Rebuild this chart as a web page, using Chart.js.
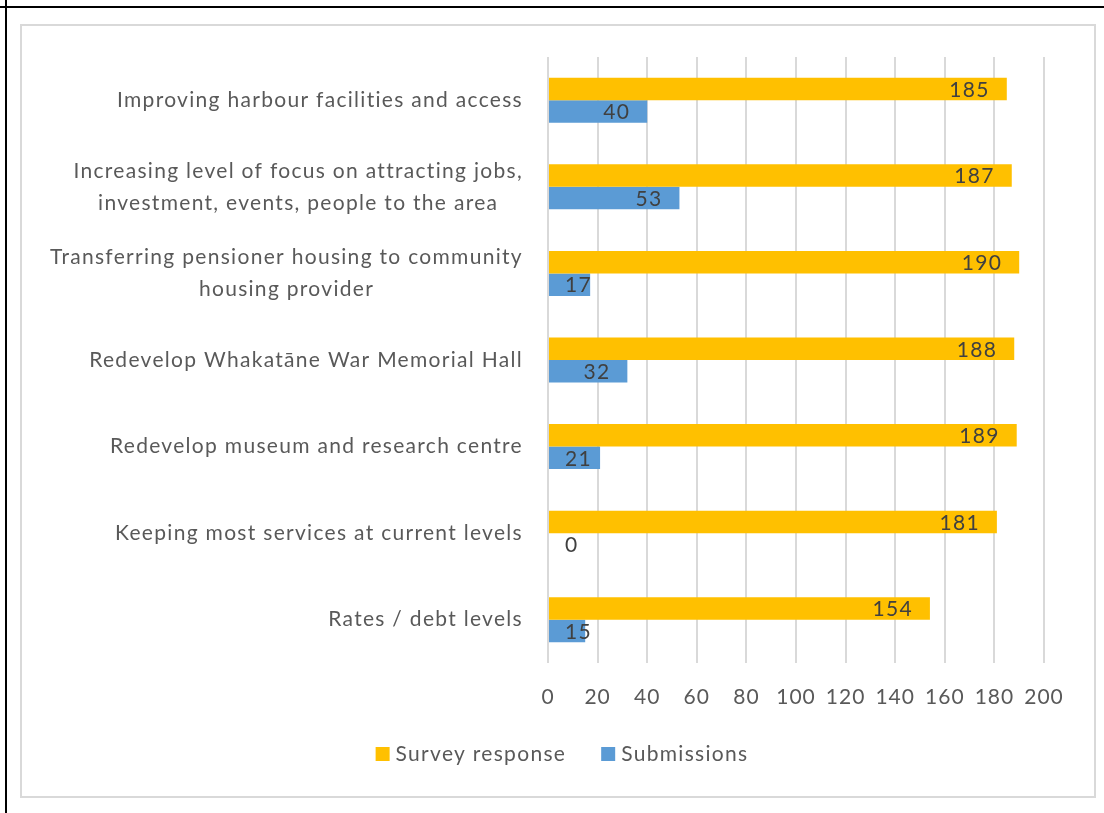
<!DOCTYPE html>
<html>
<head>
    <title>Survey response and submissions by topic</title>
    <script src="https://cdn.jsdelivr.net/npm/chart.js"></script>
    <style>
        body { margin: 0; background: #ffffff; }
        canvas { display: block; }
    </style>
</head>
<body>
    <canvas id="myChart" width="1104" height="813"></canvas>

    <script>
        // Topics, top to bottom (multi-line labels as arrays)
        var categories = [
            ['Improving harbour facilities and access'],
            ['Increasing level of focus on attracting jobs,', 'investment, events, people to the area'],
            ['Transferring pensioner housing to community', 'housing provider'],
            ['Redevelop Whakatāne War Memorial Hall'],
            ['Redevelop museum and research centre'],
            ['Keeping most services at current levels'],
            ['Rates / debt levels']
        ];
        var surveyResponse = [185, 187, 190, 188, 189, 181, 154];
        var submissions = [40, 53, 17, 32, 21, 0, 15];
        var xTicks = [0, 20, 40, 60, 80, 100, 120, 140, 160, 180, 200];

        var FONT = 'Lato, Carlito, Calibri, sans-serif';
        var textGrey = '#595959';

        // Frame, category labels, bar values and legend are drawn by hand
        var decorations = {
            id: 'decorations',
            beforeDraw: function (chart) {
                var c = chart.ctx;
                c.save();
                c.fillStyle = '#ffffff';
                c.fillRect(0, 0, chart.width, chart.height);
                // page rules
                c.fillStyle = '#000000';
                c.fillRect(0, 6, chart.width, 2);
                c.fillRect(5, 0, 2, chart.height);
                // chart border
                c.strokeStyle = '#d9d9d9';
                c.lineWidth = 2;
                c.strokeRect(21, 25, 1074, 772);
                c.restore();
                // slightly looser tracking for all text
                c.letterSpacing = '1px';
            },
            afterDatasetsDraw: function (chart) {
                var c = chart.ctx;
                var yScale = chart.scales.y;
                var x0 = chart.scales.x.getPixelForValue(0);
                c.save();
                c.font = '21px ' + FONT;
                c.letterSpacing = '1.3px';
                c.textBaseline = 'middle';

                // category labels, block right-aligned, lines centred
                c.fillStyle = textGrey;
                c.textAlign = 'center';
                categories.forEach(function (lines, i) {
                    var yc = yScale.getPixelForValue(i);
                    var maxW = 0;
                    lines.forEach(function (l) { maxW = Math.max(maxW, c.measureText(l).width); });
                    var cx = 523 - maxW / 2;
                    var lh = 32;
                    lines.forEach(function (l, k) {
                        c.fillText(l, cx, yc + (k - (lines.length - 1) / 2) * lh);
                    });
                });

                // values inside the bar ends
                c.fillStyle = '#404040';
                c.textAlign = 'left';
                chart.data.datasets.forEach(function (ds, d) {
                    chart.getDatasetMeta(d).data.forEach(function (bar, i) {
                        var txt = String(ds.data[i]);
                        var w = c.measureText(txt).width;
                        var left = Math.max(bar.x - 17 - w, x0 + 17);
                        c.fillText(txt, left, bar.y + 1);
                    });
                });

                // legend
                var items = chart.data.datasets.map(function (ds) {
                    return { label: ds.label, color: ds.backgroundColor, w: 14 + 6 + c.measureText(ds.label).width };
                });
                var gap = 35;
                var total = items.reduce(function (s, it) { return s + it.w; }, 0) + gap * (items.length - 1);
                var lx = 562 - total / 2;
                var ly = 754;
                items.forEach(function (it) {
                    c.fillStyle = it.color;
                    c.fillRect(lx, ly - 7, 14, 14);
                    c.fillStyle = textGrey;
                    c.fillText(it.label, lx + 20, ly);
                    lx += it.w + gap;
                });
                c.restore();
            }
        };

        var ctx = document.getElementById('myChart').getContext('2d');
        var myChart = new Chart(ctx, {
            type: 'bar',
            data: {
                labels: categories,
                datasets: [
                    {
                        label: 'Survey response',
                        backgroundColor: '#FFC000',
                        data: surveyResponse,
                        categoryPercentage: 0.52,
                        barPercentage: 1.0
                    },
                    {
                        label: 'Submissions',
                        backgroundColor: '#5B9BD5',
                        data: submissions,
                        categoryPercentage: 0.52,
                        barPercentage: 1.0
                    }
                ]
            },
            options: {
                indexAxis: 'y',
                responsive: false,
                animation: false,
                layout: {
                    padding: { left: 548, right: 60, top: 57, bottom: 90 }
                },
                scales: {
                    x: {
                        min: 0,
                        max: 200,
                        afterBuildTicks: function (scale) {
                            scale.ticks = xTicks.map(function (v) { return { value: v }; });
                        },
                        afterFit: function (scale) { scale.height = 60; },
                        grid: {
                            color: '#d9d9d9',
                            lineWidth: 2,
                            drawTicks: false
                        },
                        border: { display: false },
                        ticks: {
                            color: textGrey,
                            padding: 22,
                            font: { family: FONT, size: 21 },
                            maxRotation: 0
                        }
                    },
                    y: {
                        grid: { display: false },
                        border: { display: false },
                        ticks: { display: false },
                        afterFit: function (scale) { scale.width = 0; }
                    }
                },
                plugins: {
                    legend: { display: false },
                    tooltip: { enabled: false }
                }
            },
            plugins: [decorations]
        });
    </script>
</body>
</html>
